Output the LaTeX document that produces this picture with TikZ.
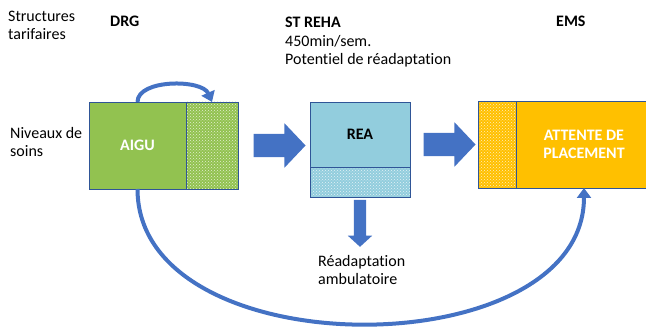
\documentclass[tikz,border=0pt]{standalone}
\usepackage{fontspec}
\setmainfont{Carlito}[Ligatures=NoCommon]
\usetikzlibrary{positioning,calc,shapes.arrows,arrows.meta,patterns}

\definecolor{aigugreen}{RGB}{146,194,80}
\definecolor{reablue}{RGB}{146,205,221}
\definecolor{emsorange}{RGB}{255,192,0}
\definecolor{arrowblue}{RGB}{68,114,196}
\definecolor{edgeblue}{RGB}{47,85,151}
\newcommand{\bodysize}{\fontsize{16}{18.5}\selectfont}

\begin{document}
\begin{tikzpicture}
[
x=1pt, y=-1pt,
every node/.style={font=\bodysize, inner sep=0pt},
Label/.style={anchor=base west, align=left},
Boldlabel/.style={Label, font=\bodysize\bfseries},
Box/.style={rectangle, draw=edgeblue, line width=0.8pt, outer sep=0pt, inner sep=0pt},
Dotbox/.style={Box, preaction={fill=#1}, preaction={pattern=crosshatch dots, pattern color=white!75!#1}},
Blockarrow/.style={single arrow, fill=arrowblue, draw=none, inner xsep=0pt, inner ysep=11.5pt, outer sep=0pt,
  minimum height=52pt, single arrow head extend=10.5pt, single arrow tip angle=93},
Downarrow/.style={Blockarrow, shape border rotate=270, inner sep=6pt,
  minimum height=47pt, single arrow head extend=6pt, single arrow tip angle=95},
Curve/.style={draw=arrowblue, line width=4pt, -{Triangle[width=14pt,length=10pt]}}
]
\useasboundingbox (0,0) rectangle (646,328);

% column and row titles
\node[Label] (structures) at (8,40) {Structures\\tarifaires};
\node[Boldlabel] (drg) at (110,27) {DRG};
\node[Label] (streha) at (285,65) {\textbf{ST REHA}\\450min/sem.\\Potentiel de réadaptation};
\node[Boldlabel] (ems) at (556,27) {EMS};
\node[Label] (niveaux) at (10,157) {Niveaux de\\soins};

% levels of care
\node[Box, fill=aigugreen, minimum width=97pt, minimum height=87pt, text=white, font=\bodysize\bfseries] (aigu) at (137.5,145.5) {AIGU};
\node[Dotbox=aigugreen, minimum width=52pt, minimum height=87pt, right=0pt of aigu] (aigudots) {};
\node[Box, fill=reablue, minimum width=100pt, minimum height=65pt, font=\bodysize\bfseries] (rea) at (360,134.5) {REA};
\node[Dotbox=reablue, minimum width=100pt, minimum height=30pt, below=0pt of rea] (readots) {};
\node[Dotbox=emsorange, minimum width=38pt, minimum height=87pt] (emsdots) at (497,144.5) {};
\node[Box, fill=emsorange, minimum width=136pt, minimum height=87pt, right=0pt of emsdots, text=white, align=center, font=\bodysize\bfseries] (placement) {ATTENTE DE\\PLACEMENT};

% block arrows
\node[Blockarrow] (arrow1) at ($(aigudots.east)!0.5!(rea.west |- aigudots.east)$) {};
\node[Blockarrow] (arrow2) at ($(rea.east |- emsdots.west)!0.5!(emsdots.west)$) {};
\node[Downarrow] (arrow3) at ($(readots.south)+(0,23.5)$) {};
\node[Label] (ambulatoire) at (318,285) {Réadaptation\\ambulatoire};

% curved arrows
\draw[Curve] (aigu.north) .. controls +(0,-23) and +(-10,-23) .. (aigudots.north);
\draw[Curve] (aigu.south) .. controls +(0,180) and +(0,180) .. (placement.south);
\end{tikzpicture}
\end{document}
